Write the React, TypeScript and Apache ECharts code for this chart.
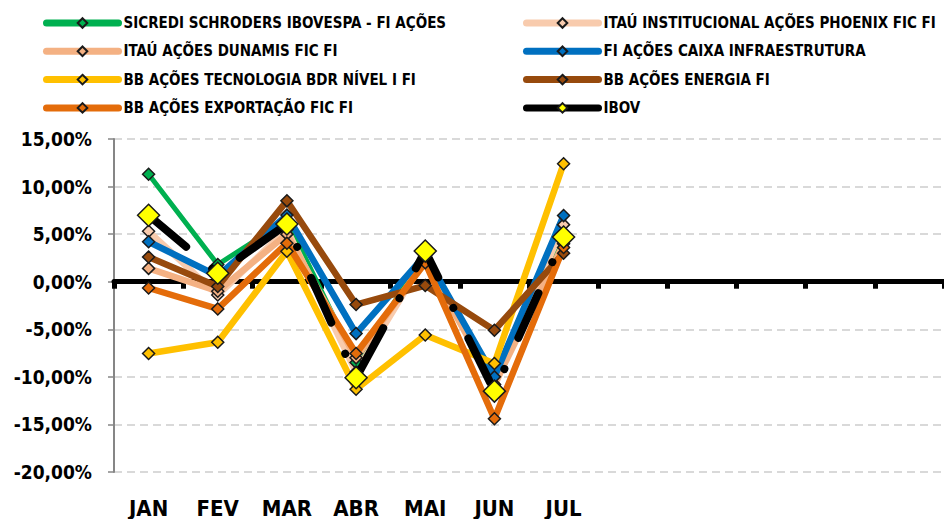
import React, { useEffect, useRef } from 'react';
import * as echarts from 'echarts';

const months = ['JAN', 'FEV', 'MAR', 'ABR', 'MAI', 'JUN', 'JUL', 'AGO', 'SET', 'OUT', 'NOV', 'DEZ'];
const shownMonths = 7;

const sicredi = [11.3, 1.8, 6.5, -8.5, 3.0, -10.8, 4.5];
const itauInst = [5.3, -1.4, 5.5, -9.5, 2.5, -11.0, 6.0];
const itauDunamis = [1.4, -1.0, 5.0, -8.0, 2.2, -10.8, 4.0];
const caixaInfra = [4.2, 0.6, 7.0, -5.45, 2.8, -10.0, 6.95];
const bbTecnologia = [-7.55, -6.36, 3.2, -11.3, -5.6, -8.6, 12.4];
const bbEnergia = [2.6, -0.5, 8.5, -2.4, -0.4, -5.1, 3.0];
const bbExportacao = [-0.66, -2.86, 4.05, -7.55, 2.0, -14.4, 3.6];
const ibov = [6.98, 0.89, 6.06, -10.1, 3.22, -11.5, 4.69];

const yTicks = { min: -20, max: 15, interval: 5 };

const FONT = '"DejaVu Sans Condensed", "DejaVu Sans", sans-serif';

const seriesDefs = [
  { name: 'SICREDI SCHRODERS IBOVESPA - FI AÇÕES', data: sicredi, color: '#00B050', width: 5 },
  { name: 'ITAÚ INSTITUCIONAL AÇÕES PHOENIX FIC FI', data: itauInst, color: '#F8CBAD', width: 6.5 },
  { name: 'ITAÚ AÇÕES DUNAMIS FIC FI', data: itauDunamis, color: '#F4B183', width: 6.5 },
  { name: 'FI AÇÕES CAIXA INFRAESTRUTURA', data: caixaInfra, color: '#0070C0', width: 6.5 },
  { name: 'BB AÇÕES TECNOLOGIA BDR NÍVEL I FI', data: bbTecnologia, color: '#FFC000', width: 6.5 },
  { name: 'BB AÇÕES ENERGIA FI', data: bbEnergia, color: '#974A0D', width: 6.5 },
  { name: 'BB AÇÕES EXPORTAÇÃO FIC FI', data: bbExportacao, color: '#E46C0A', width: 6.5 },
];

export default function App() {
  const ref = useRef<HTMLDivElement>(null);
  useEffect(() => {
    if (!ref.current) return;
    const chart = echarts.init(ref.current, null, { renderer: 'svg' });
    const series: any[] = seriesDefs.map((s) => ({
      name: s.name,
      type: 'line',
      data: s.data,
      symbol: 'diamond',
      symbolSize: 12,
      lineStyle: { color: s.color, width: s.width, cap: 'butt', join: 'round' },
      itemStyle: { color: s.color, borderColor: '#1a1a1a', borderWidth: 1.5 },
      emphasis: { disabled: true },
      z: 2,
    }));
    series.push({
      name: 'IBOV',
      type: 'line',
      data: ibov,
      symbol: 'diamond',
      symbolSize: 22,
      lineStyle: { color: '#000', width: 8, type: [49, 34, 0.1, 34], cap: 'round', join: 'round' },
      itemStyle: { color: '#FFFF00', borderColor: '#1a1a1a', borderWidth: 1.5 },
      emphasis: { disabled: true },
      z: 3,
    });
    const legendCommon = {
      orient: 'vertical',
      top: 15,
      padding: 0,
      itemWidth: 72,
      itemHeight: 12,
      itemGap: 12.3,
      lineStyle: { width: 7 },
      textStyle: { fontFamily: FONT, fontWeight: 'bold', fontSize: 15, color: '#000', lineHeight: 16 },
    };
    const left = [seriesDefs[0].name, seriesDefs[2].name, seriesDefs[4].name, seriesDefs[6].name];
    const right = [seriesDefs[1].name, seriesDefs[3].name, seriesDefs[5].name, 'IBOV'];
    const toLegendItem = (n: string) =>
      n === 'IBOV'
        ? { name: n, lineStyle: { type: 'solid', cap: 'round', width: 7 } }
        : { name: n, lineStyle: { width: 7, cap: 'round' } };
    chart.setOption({
      animation: false,
      backgroundColor: '#fff',
      grid: { left: 114, right: 0, top: 139, bottom: 46, containLabel: false },
      legend: [
        { ...legendCommon, left: 43, data: left.map(toLegendItem) },
        { ...legendCommon, left: 523, data: right.map(toLegendItem) },
      ],
      xAxis: [
        {
          type: 'category',
          data: months,
          boundaryGap: true,
          position: 'bottom',
          axisLine: { show: false, onZero: false },
          axisTick: { show: false },
          axisLabel: {
            margin: 25,
            fontFamily: FONT,
            fontWeight: 'bold',
            fontSize: 22,
            color: '#000',
            interval: 0,
            formatter: (v: string, i: number) => (i < shownMonths ? v : ''),
          },
        },
        {
          type: 'category',
          data: months,
          boundaryGap: true,
          position: 'bottom',
          axisLine: { show: true, onZero: true, lineStyle: { color: '#000', width: 5 } },
          axisTick: { show: true, length: 7, interval: 0, lineStyle: { color: '#000', width: 5 } },
          axisLabel: { show: false },
          z: 1,
        },
      ],
      yAxis: {
        type: 'value',
        min: yTicks.min,
        max: yTicks.max,
        interval: yTicks.interval,
        axisLine: { show: true, lineStyle: { color: '#868686', width: 2 } },
        axisTick: { show: true, length: 6, lineStyle: { color: '#868686', width: 1.5 } },
        splitLine: { show: true, lineStyle: { color: '#D9D9D9', width: 2, type: [8, 5] } },
        axisLabel: {
          margin: 22,
          fontFamily: FONT,
          fontWeight: 'bold',
          fontSize: 19,
          color: '#000',
          formatter: (v: number) => v.toFixed(2).replace('.', ',') + '%',
        },
      },
      series,
    });
    return () => chart.dispose();
  }, []);
  return <div ref={ref} style={{ position: 'fixed', left: 0, top: 0, width: 944, height: 519 }} />;
}
